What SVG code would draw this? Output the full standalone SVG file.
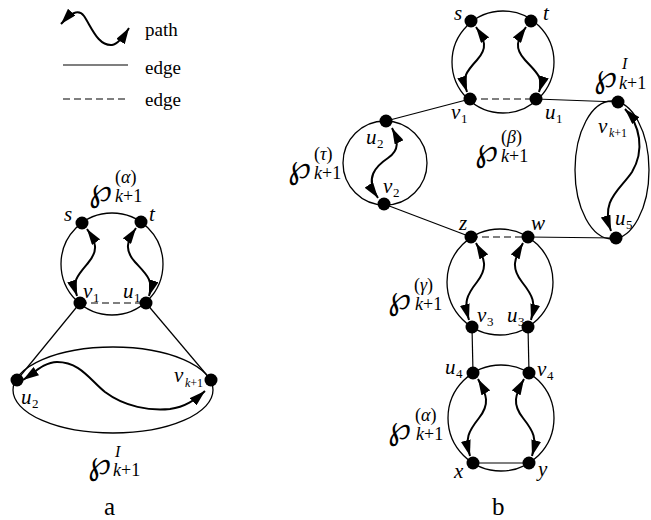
<svg xmlns="http://www.w3.org/2000/svg" width="651" height="520" viewBox="0 0 651 520">
<style>
.c{fill:none;stroke:#000;stroke-width:1.3}
.e{stroke:#000;stroke-width:1.2;fill:none}
.d{stroke:#000;stroke-width:1.2;stroke-dasharray:7 4;fill:none}
.p{fill:none;stroke:#000;stroke-width:2;marker-start:url(#ah);marker-end:url(#ah)}
.n{fill:#000}
.l{font-family:"Liberation Serif",serif;font-style:italic;font-size:21px}
.s{font-family:"Liberation Serif",serif;font-style:normal;font-size:13px}
.sk{font-family:"Liberation Serif",serif;font-size:12px}
.wp{font-family:"DejaVu Serif","DejaVu Sans",serif;font-size:33px}
.sp{font-family:"Liberation Serif",serif;font-size:18px}
.si{font-family:"Liberation Serif",serif;font-style:italic;font-size:16px}
.i{font-style:italic}
.t{font-family:"Liberation Serif",serif;font-size:19px}
.cap{font-family:"Liberation Serif",serif;font-size:25px}
</style>
<defs>
<marker id="ah" viewBox="0 0 16 10" refX="16" refY="5" markerWidth="16" markerHeight="10" markerUnits="userSpaceOnUse" orient="auto-start-reverse">
<path d="M0,0 L16,5 L0,10 z" fill="#000"/>
</marker>
</defs>

<g id="legend">
<path class="p" d="M61,24 C70,14 78,8 84,16 C92,28 98,46 112,45 C118,44 124,36 129,28"/>
<text class="t" x="145" y="36">path</text>
<line class="e" x1="63" y1="65" x2="128" y2="65"/>
<text class="t" x="145" y="74">edge</text>
<line class="d" x1="63" y1="99" x2="128" y2="99"/>
<text class="t" x="145" y="106">edge</text>
</g>

<!-- ===== panel a ===== -->
<g id="a-alpha">
<circle class="c" cx="112" cy="264" r="51"/>
<text class="wp" x="89" y="201">℘</text>
<text class="sp" x="115" y="183">(<tspan class="i">α</tspan>)</text>
<text class="sp" x="115" y="202"><tspan class="i">k</tspan>+1</text>
</g>
<g id="a-I">
<ellipse class="c" cx="113" cy="390" rx="100" ry="43"/>
<text class="wp" x="88" y="474">℘</text>
<text class="si" x="115" y="457">I</text>
<text class="sp" x="113" y="476"><tspan class="i">k</tspan>+1</text>
</g>

<g id="a-connectors">
<line class="d" x1="80" y1="303" x2="146" y2="303"/>
<line class="e" x1="80" y1="303" x2="17" y2="380"/>
<line class="e" x1="146" y1="303" x2="211" y2="380"/>
<path class="p" d="M87,229 C96,242 99,250 88,263 S72,281 77,296"/>
<path class="p" d="M136,228 C127,241 124,250 135,262 S154,280 149,296"/>
<path class="p" d="M23,380 C35,372 45,362 57,362 C80,362 90,380 105,392 C125,407 150,411 170,409 C185,407 195,400 205,391"/>
</g>

<g id="a-s"><circle class="n" cx="82" cy="223" r="6.5"/><text class="l" x="64" y="221">s</text></g>
<g id="a-t"><circle class="n" cx="141" cy="222" r="6.5"/><text class="l" x="149" y="221">t</text></g>
<g id="a-v1"><circle class="n" cx="80" cy="303" r="6.5"/><text class="l" x="83" y="298">v</text><text class="s" x="93" y="302">1</text></g>
<g id="a-u1"><circle class="n" cx="146" cy="303" r="6.5"/><text class="l" x="123" y="298">u</text><text class="s" x="134" y="302">1</text></g>
<g id="a-u2"><circle class="n" cx="17" cy="380" r="6.5"/><text class="l" x="21" y="404">u</text><text class="s" x="32" y="408">2</text></g>
<g id="a-vk1"><circle class="n" cx="211" cy="380" r="6.5"/><text class="l" x="174" y="382">v</text><text class="sk" x="185" y="387"><tspan class="i">k</tspan>+1</text></g>

<text class="cap" x="104" y="515">a</text>

<!-- ===== panel b ===== -->
<g id="b-beta">
<circle class="c" cx="503" cy="62" r="51"/>
<text class="wp" x="475" y="161">℘</text>
<text class="sp" x="501" y="143">(<tspan class="i">β</tspan>)</text>
<text class="sp" x="501" y="162"><tspan class="i">k</tspan>+1</text>
</g>
<g id="b-tau">
<circle class="c" cx="385" cy="163" r="42"/>
<text class="wp" x="288" y="178">℘</text>
<text class="sp" x="314" y="160">(<tspan class="i">τ</tspan>)</text>
<text class="sp" x="314" y="179"><tspan class="i">k</tspan>+1</text>
</g>
<g id="b-I">
<ellipse class="c" cx="612" cy="170" rx="37" ry="69"/>
<text class="wp" x="594" y="87">℘</text>
<text class="si" x="622" y="69">I</text>
<text class="sp" x="619" y="89"><tspan class="i">k</tspan>+1</text>
</g>
<g id="b-gamma">
<circle class="c" cx="500" cy="282" r="53"/>
<text class="wp" x="388" y="309">℘</text>
<text class="sp" x="414" y="291">(<tspan class="i">γ</tspan>)</text>
<text class="sp" x="415" y="310"><tspan class="i">k</tspan>+1</text>
</g>
<g id="b-alpha">
<circle class="c" cx="501" cy="418" r="53"/>
<text class="wp" x="388" y="439">℘</text>
<text class="sp" x="415" y="421">(<tspan class="i">α</tspan>)</text>
<text class="sp" x="416" y="440"><tspan class="i">k</tspan>+1</text>
</g>

<g id="b-connectors">
<line class="d" x1="470" y1="99" x2="536" y2="99"/>
<line class="e" x1="386" y1="121" x2="470" y2="99"/>
<line class="e" x1="536" y1="99" x2="618" y2="102"/>
<line class="e" x1="384" y1="204" x2="471" y2="237"/>
<line class="d" x1="471" y1="237" x2="528" y2="237"/>
<line class="e" x1="528" y1="237" x2="616" y2="238"/>
<line class="e" x1="472" y1="327" x2="473" y2="373"/>
<line class="e" x1="528" y1="327" x2="529" y2="373"/>
<line class="e" x1="473" y1="463" x2="529" y2="463"/>
<path class="p" d="M476,27 C485,40 488,48 477,60 S462,77 467,92"/>
<path class="p" d="M526,27 C517,40 514,48 525,60 S544,77 539,92"/>
<path class="p" d="M392,128 C398,140 400,150 388,158 S364,178 378,198"/>
<path class="p" d="M625,109 C640,125 645,150 632,172 C620,190 600,200 611,231"/>
<path class="p" d="M476,243 C485,259 488,268 477,282 S464,302 469,320"/>
<path class="p" d="M523,243 C514,259 511,268 522,282 S536,302 531,320"/>
<path class="p" d="M478,379 C487,395 490,404 479,418 S465,438 470,456"/>
<path class="p" d="M524,379 C515,395 512,404 523,418 S537,438 532,456"/>
</g>

<g id="b-s"><circle class="n" cx="471" cy="21" r="6.5"/><text class="l" x="454" y="20">s</text></g>
<g id="b-t"><circle class="n" cx="531" cy="21" r="6.5"/><text class="l" x="543" y="20">t</text></g>
<g id="b-v1"><circle class="n" cx="470" cy="99" r="6.5"/><text class="l" x="451" y="119">v</text><text class="s" x="461" y="123">1</text></g>
<g id="b-u1"><circle class="n" cx="536" cy="99" r="6.5"/><text class="l" x="545" y="119">u</text><text class="s" x="556" y="123">1</text></g>
<g id="b-u2"><circle class="n" cx="386" cy="121" r="6.5"/><text class="l" x="366" y="144">u</text><text class="s" x="377" y="148">2</text></g>
<g id="b-v2"><circle class="n" cx="384" cy="204" r="6.5"/><text class="l" x="383" y="193">v</text><text class="s" x="393" y="197">2</text></g>
<g id="b-vk1"><circle class="n" cx="618" cy="102" r="6.5"/><text class="l" x="598" y="133">v</text><text class="sk" x="609" y="137"><tspan class="i">k</tspan>+1</text></g>
<g id="b-u5"><circle class="n" cx="616" cy="238" r="6.5"/><text class="l" x="615" y="225">u</text><text class="s" x="626" y="229">5</text></g>
<g id="b-z"><circle class="n" cx="471" cy="237" r="6.5"/><text class="l" x="459" y="230">z</text></g>
<g id="b-w"><circle class="n" cx="528" cy="237" r="6.5"/><text class="l" x="531" y="230">w</text></g>
<g id="b-v3"><circle class="n" cx="472" cy="327" r="6.5"/><text class="l" x="477" y="322">v</text><text class="s" x="487" y="326">3</text></g>
<g id="b-u3"><circle class="n" cx="528" cy="327" r="6.5"/><text class="l" x="507" y="322">u</text><text class="s" x="518" y="326">3</text></g>
<g id="b-u4"><circle class="n" cx="473" cy="373" r="6.5"/><text class="l" x="445" y="374">u</text><text class="s" x="456" y="378">4</text></g>
<g id="b-v4"><circle class="n" cx="529" cy="373" r="6.5"/><text class="l" x="537" y="376">v</text><text class="s" x="547" y="380">4</text></g>
<g id="b-x"><circle class="n" cx="473" cy="463" r="6.5"/><text class="l" x="454" y="478">x</text></g>
<g id="b-y"><circle class="n" cx="529" cy="463" r="6.5"/><text class="l" x="538" y="476">y</text></g>

<text class="cap" x="492" y="515">b</text>
</svg>
